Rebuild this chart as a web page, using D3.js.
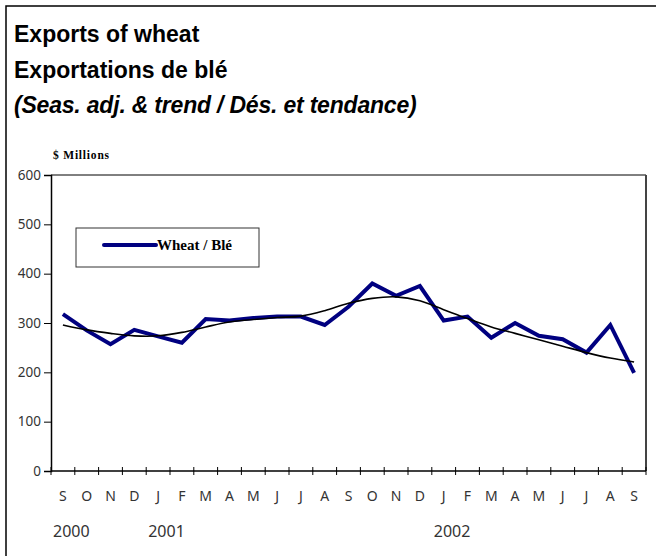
<!DOCTYPE html>
<html>
<head>
<meta charset="utf-8">
<script src="https://cdn.jsdelivr.net/npm/d3@7"></script>
<style>
  body { margin: 0; background: #fff; }
  svg { display: block; }
</style>
</head>
<body>
<div class="chart"></div>
<script>
const width = 656
const height = 556

// monthly data, Sep 2000 .. Sep 2002
const months = ['S','O','N','D','J','F','M','A','M','J','J','A','S','O','N','D','J','F','M','A','M','J','J','A','S']
const wheat = [318, 285, 257, 286, 273, 260, 308, 305, 310, 313, 313, 296, 333, 380, 355, 375, 305, 313, 270, 300, 274, 267, 240, 296, 199]
const trend = [296, 286, 279, 274, 274, 281, 292, 302, 307, 311, 314, 325, 340, 350, 353, 345, 327, 309, 292, 279, 266, 253, 240, 229, 221]
const yTicks = [0, 100, 200, 300, 400, 500, 600]
const years = [{label: '2000', at: 0}, {label: '2001', at: 4}, {label: '2002', at: 16}]

const svg = d3.select('.chart').append('svg')
    .attr('width', width)
    .attr('height', height)

// outer frame (only left/top show inside the picture)
svg.append('rect')
    .attr('x', 6).attr('y', 6)
    .attr('width', 700).attr('height', 600)
    .attr('fill', 'none')
    .attr('stroke', '#000')
    .attr('stroke-width', 1.5)

// titles
const titles = svg.append('g')
    .attr('font-family', 'Liberation Sans, Arial, sans-serif')
    .attr('font-weight', 'bold')
    .attr('font-size', 23)
titles.append('text').attr('x', 14).attr('y', 42).text('Exports of wheat')
titles.append('text').attr('x', 14).attr('y', 78).text('Exportations de blé')
titles.append('text').attr('x', 14).attr('y', 113)
    .attr('font-style', 'italic')
    .attr('letter-spacing', -0.2)
    .text('(Seas. adj. & trend / Dés. et tendance)')

svg.append('text')
    .attr('x', 53).attr('y', 159)
    .attr('font-family', 'Liberation Serif, Times New Roman, serif')
    .attr('font-weight', 'bold')
    .attr('font-size', 11.5)
    .attr('letter-spacing', 0.8)
    .text('$ Millions')

const plotL = 51, plotR = 646, plotT = 175, plotB = 471

const x = d3.scaleBand()
    .domain(d3.range(months.length))
    .range([plotL, plotR])
    .padding(0)

const y = d3.scaleLinear()
    .domain([0, 600])
    .range([plotB, plotT])

const cx = i => x(i) + x.bandwidth() / 2

// frame top and right
svg.append('line')
    .attr('x1', plotL).attr('x2', plotR)
    .attr('y1', plotT).attr('y2', plotT)
    .attr('stroke', '#000').attr('stroke-width', 1)
svg.append('line')
    .attr('x1', plotR).attr('x2', plotR)
    .attr('y1', plotT).attr('y2', plotB)
    .attr('stroke', '#444').attr('stroke-width', 2)

// y axis
const yAxis = svg.append('g')
    .attr('transform', `translate(${plotL},0)`)
    .call(d3.axisLeft(y).tickValues(yTicks).tickSize(7).tickPadding(3).tickFormat(d3.format('d')))
yAxis.select('.domain').attr('stroke', '#000').attr('stroke-width', 1.5)
yAxis.selectAll('.tick line').attr('stroke', '#000')
yAxis.selectAll('.tick text')
    .attr('font-family', 'Noto Sans, DejaVu Sans, sans-serif')
    .attr('font-size', 13.5)
    .attr('fill', '#333')

// x axis: line + crossing ticks at category boundaries
svg.append('line')
    .attr('x1', plotL).attr('x2', plotR)
    .attr('y1', plotB).attr('y2', plotB)
    .attr('stroke', '#000').attr('stroke-width', 1.5)

const bounds = d3.range(months.length + 1).map(i => i < months.length ? x(i) : plotR)
svg.append('g').selectAll('line')
    .data(bounds)
    .join('line')
    .attr('x1', d => d).attr('x2', d => d)
    .attr('y1', plotB - 4).attr('y2', plotB + 4)
    .attr('stroke', '#000').attr('stroke-width', 1)

svg.append('g').selectAll('text')
    .data(months)
    .join('text')
    .attr('x', (d, i) => cx(i))
    .attr('y', 501)
    .attr('text-anchor', 'middle')
    .attr('font-family', 'Noto Sans, DejaVu Sans, sans-serif')
    .attr('font-size', 14)
    .attr('fill', '#333')
    .text(d => d)

svg.append('g').selectAll('text')
    .data(years)
    .join('text')
    .attr('x', d => x(d.at) + 2)
    .attr('y', 537)
    .attr('font-family', 'Noto Sans, DejaVu Sans, sans-serif')
    .attr('font-size', 16)
    .attr('fill', '#333')
    .text(d => d.label)

// series
const wheatLine = d3.line()
    .x((d, i) => cx(i))
    .y(d => y(d))

svg.append('path')
    .datum(wheat)
    .attr('d', wheatLine)
    .attr('fill', 'none')
    .attr('stroke', '#000080')
    .attr('stroke-width', 4)
    .attr('stroke-linejoin', 'miter')

const trendLine = d3.line()
    .x((d, i) => cx(i))
    .y(d => y(d))
    .curve(d3.curveCatmullRom)

svg.append('path')
    .datum(trend)
    .attr('d', trendLine)
    .attr('fill', 'none')
    .attr('stroke', '#000')
    .attr('stroke-width', 1.6)

// legend
const legend = svg.append('g')
legend.append('rect')
    .attr('x', 76).attr('y', 228)
    .attr('width', 183).attr('height', 39)
    .attr('fill', '#fff')
    .attr('stroke', '#333')
    .attr('stroke-width', 1)
legend.append('line')
    .attr('x1', 104).attr('x2', 156)
    .attr('y1', 245).attr('y2', 245)
    .attr('stroke', '#000080')
    .attr('stroke-width', 4)
    .attr('stroke-linecap', 'round')
legend.append('text')
    .attr('x', 157).attr('y', 250)
    .attr('font-family', 'Liberation Serif, Times New Roman, serif')
    .attr('font-weight', 'bold')
    .attr('font-size', 15)
    .text('Wheat / Blé')
</script>
</body>
</html>
